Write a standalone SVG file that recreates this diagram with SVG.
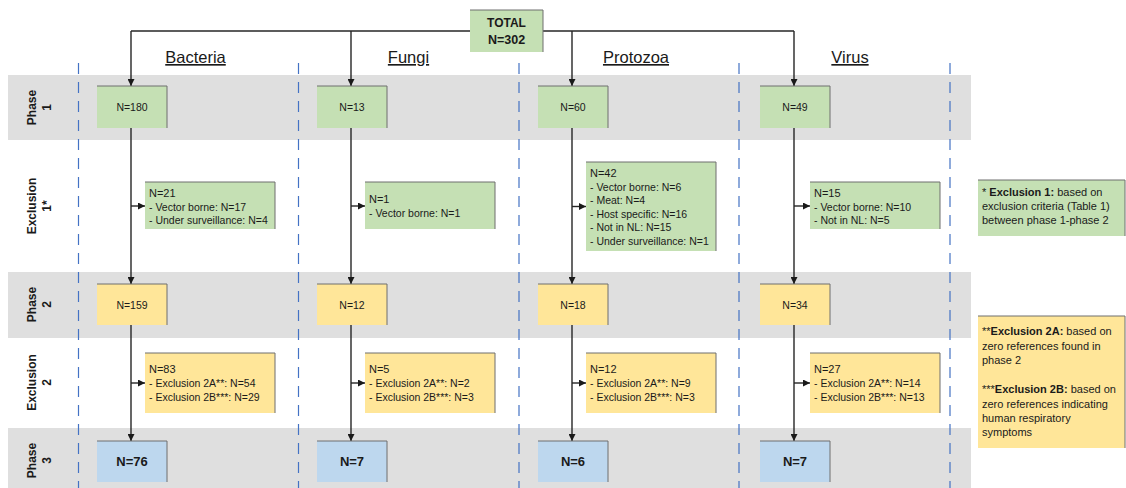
<svg xmlns="http://www.w3.org/2000/svg" width="1126" height="488" viewBox="0 0 1126 488">
<defs>
<marker id="ah" viewBox="0 0 7 7" refX="7" refY="3.5" markerWidth="7" markerHeight="7" markerUnits="userSpaceOnUse" orient="auto"><path d="M0,0 L7,3.5 L0,7 z" fill="#1a1a1a"/></marker>
<style>
text{font-family:"Liberation Sans",Arial,sans-serif;fill:#1a1a1a}
.band{fill:#dfdfdf}
.dash{stroke:#4472c4;stroke-width:1.2;stroke-dasharray:11 8;fill:none}
.con{stroke:#262626;stroke-width:1.4;fill:none}
.g{fill:#c5e0b4}
.y{fill:#ffe699}
.b{fill:#bdd7ee}
.edge{stroke:#6f6f6f;stroke-width:1;fill:none}
.hdr{font-size:16.5px;text-decoration:underline}
.row{font-size:12px;font-weight:bold;text-anchor:middle}
.pn{font-size:10.5px;text-anchor:middle}
.p3{font-size:13px;font-weight:bold;text-anchor:middle}
.ex{font-size:10.5px}
.exh{font-size:11px}
.leg{font-size:11px}
</style>
</defs>
<g id="bands">
<rect class="band" x="8" y="75" width="963" height="65"/>
<rect class="band" x="8" y="272" width="963" height="66"/>
<rect class="band" x="8" y="428" width="963" height="60"/>
</g>
<g id="dividers">
<line class="dash" x1="78.5" y1="63" x2="78.5" y2="488"/>
<line class="dash" x1="298.5" y1="63" x2="298.5" y2="488"/>
<line class="dash" x1="519" y1="63" x2="519" y2="488"/>
<line class="dash" x1="739" y1="63" x2="739" y2="488"/>
<line class="dash" x1="950" y1="63" x2="950" y2="488"/>
</g>
<g id="row-labels">
<g transform="translate(0,107.5) rotate(-90)"><text class="row" x="0" y="36">Phase</text><text class="row" x="0" y="50.5">1</text></g>
<g transform="translate(0,206) rotate(-90)"><text class="row" x="0" y="36">Exclusion</text><text class="row" x="0" y="50.5">1*</text></g>
<g transform="translate(0,304.5) rotate(-90)"><text class="row" x="0" y="36">Phase</text><text class="row" x="0" y="50.5">2</text></g>
<g transform="translate(0,382.5) rotate(-90)"><text class="row" x="0" y="36">Exclusion</text><text class="row" x="0" y="50.5">2</text></g>
<g transform="translate(0,460.5) rotate(-90)"><text class="row" x="0" y="36">Phase</text><text class="row" x="0" y="50.5">3</text></g>
</g>
<g id="headers">
<text class="hdr" x="195.5" y="63" text-anchor="middle">Bacteria</text>
<text class="hdr" x="408.5" y="63" text-anchor="middle">Fungi</text>
<text class="hdr" x="636" y="63" text-anchor="middle">Protozoa</text>
<text class="hdr" x="850" y="63" text-anchor="middle">Virus</text>
</g>
<g id="connectors">
<path class="con" d="M131,31 H794"/>
<path class="con" d="M131,31 V86" marker-end="url(#ah)"/>
<path class="con" d="M351,31 V86" marker-end="url(#ah)"/>
<path class="con" d="M572,31 V86" marker-end="url(#ah)"/>
<path class="con" d="M794,31 V86" marker-end="url(#ah)"/>
<path class="con" d="M131,128 V284" marker-end="url(#ah)"/>
<path class="con" d="M351,128 V284" marker-end="url(#ah)"/>
<path class="con" d="M572,128 V284" marker-end="url(#ah)"/>
<path class="con" d="M794,128 V284" marker-end="url(#ah)"/>
<path class="con" d="M131,325 V441" marker-end="url(#ah)"/>
<path class="con" d="M351,325 V441" marker-end="url(#ah)"/>
<path class="con" d="M572,325 V441" marker-end="url(#ah)"/>
<path class="con" d="M794,325 V441" marker-end="url(#ah)"/>
<path class="con" d="M131,206 H145" marker-end="url(#ah)"/>
<path class="con" d="M351,206 H365" marker-end="url(#ah)"/>
<path class="con" d="M572,206.5 H586" marker-end="url(#ah)"/>
<path class="con" d="M794,206 H810" marker-end="url(#ah)"/>
<path class="con" d="M131,383 H145" marker-end="url(#ah)"/>
<path class="con" d="M351,383 H365" marker-end="url(#ah)"/>
<path class="con" d="M572,383 H586" marker-end="url(#ah)"/>
<path class="con" d="M794,383 H810" marker-end="url(#ah)"/>
</g>
<g id="total">
<rect class="g" x="470" y="10" width="73" height="42"/><path class="edge" d="M470,10 H543 V52"/>
<text x="506.5" y="27" font-size="12" font-weight="bold" text-anchor="middle">TOTAL</text>
<text x="506.5" y="44" font-size="12.5" font-weight="bold" text-anchor="middle">N=302</text>
</g>
<!-- Bacteria -->
<g id="bacteria-p1"><rect class="g" x="97" y="86" width="70" height="42"/><path class="edge" d="M97,86 H167 V128"/><text class="pn" x="132" y="111">N=180</text></g>
<g id="bacteria-e1"><rect class="g" x="145" y="182" width="130" height="47"/><path class="edge" d="M145,182 H275 V229"/>
<text class="exh" x="149" y="197">N=21</text><text class="ex" x="149" y="210.5">- Vector borne: N=17</text><text class="ex" x="149" y="224">- Under surveillance: N=4</text></g>
<g id="bacteria-p2"><rect class="y" x="97" y="284" width="70" height="41"/><path class="edge" d="M97,284 H167 V325"/><text class="pn" x="132" y="308.5">N=159</text></g>
<g id="bacteria-e2"><rect class="y" x="145" y="353" width="130" height="60"/><path class="edge" d="M145,353 H275 V413"/>
<text class="exh" x="149" y="373">N=83</text><text class="ex" x="149" y="387">- Exclusion 2A**: N=54</text><text class="ex" x="149" y="401">- Exclusion 2B***: N=29</text></g>
<g id="bacteria-p3"><rect class="b" x="97" y="441" width="70" height="41"/><path class="edge" d="M97,441 H167 V482"/><text class="p3" x="132" y="466">N=76</text></g>
<!-- Fungi -->
<g id="fungi-p1"><rect class="g" x="317" y="86" width="70" height="42"/><path class="edge" d="M317,86 H387 V128"/><text class="pn" x="352" y="111">N=13</text></g>
<g id="fungi-e1"><rect class="g" x="365" y="182" width="130" height="47"/><path class="edge" d="M365,182 H495 V229"/>
<text class="exh" x="369" y="203">N=1</text><text class="ex" x="369" y="217">- Vector borne: N=1</text></g>
<g id="fungi-p2"><rect class="y" x="317" y="284" width="70" height="41"/><path class="edge" d="M317,284 H387 V325"/><text class="pn" x="352" y="308.5">N=12</text></g>
<g id="fungi-e2"><rect class="y" x="365" y="353" width="130" height="60"/><path class="edge" d="M365,353 H495 V413"/>
<text class="exh" x="369" y="373">N=5</text><text class="ex" x="369" y="387">- Exclusion 2A**: N=2</text><text class="ex" x="369" y="401">- Exclusion 2B***: N=3</text></g>
<g id="fungi-p3"><rect class="b" x="317" y="441" width="70" height="41"/><path class="edge" d="M317,441 H387 V482"/><text class="p3" x="352" y="466">N=7</text></g>
<!-- Protozoa -->
<g id="protozoa-p1"><rect class="g" x="538" y="86" width="70" height="42"/><path class="edge" d="M538,86 H608 V128"/><text class="pn" x="573" y="111">N=60</text></g>
<g id="protozoa-e1"><rect class="g" x="586" y="162" width="130" height="89"/><path class="edge" d="M586,162 H716 V251"/>
<text class="exh" x="590" y="177">N=42</text><text class="ex" x="590" y="190.5">- Vector borne: N=6</text><text class="ex" x="590" y="204">- Meat: N=4</text><text class="ex" x="590" y="217.5">- Host specific: N=16</text><text class="ex" x="590" y="231">- Not in NL: N=15</text><text class="ex" x="590" y="244.5">- Under surveillance: N=1</text></g>
<g id="protozoa-p2"><rect class="y" x="538" y="284" width="70" height="41"/><path class="edge" d="M538,284 H608 V325"/><text class="pn" x="573" y="308.5">N=18</text></g>
<g id="protozoa-e2"><rect class="y" x="586" y="353" width="130" height="60"/><path class="edge" d="M586,353 H716 V413"/>
<text class="exh" x="590" y="373">N=12</text><text class="ex" x="590" y="387">- Exclusion 2A**: N=9</text><text class="ex" x="590" y="401">- Exclusion 2B***: N=3</text></g>
<g id="protozoa-p3"><rect class="b" x="538" y="441" width="70" height="41"/><path class="edge" d="M538,441 H608 V482"/><text class="p3" x="573" y="466">N=6</text></g>
<!-- Virus -->
<g id="virus-p1"><rect class="g" x="760" y="86" width="70" height="42"/><path class="edge" d="M760,86 H830 V128"/><text class="pn" x="795" y="111">N=49</text></g>
<g id="virus-e1"><rect class="g" x="810" y="182" width="130" height="47"/><path class="edge" d="M810,182 H940 V229"/>
<text class="exh" x="814" y="197">N=15</text><text class="ex" x="814" y="210.5">- Vector borne: N=10</text><text class="ex" x="814" y="224">- Not in NL: N=5</text></g>
<g id="virus-p2"><rect class="y" x="760" y="284" width="70" height="41"/><path class="edge" d="M760,284 H830 V325"/><text class="pn" x="795" y="308.5">N=34</text></g>
<g id="virus-e2"><rect class="y" x="810" y="353" width="130" height="60"/><path class="edge" d="M810,353 H940 V413"/>
<text class="exh" x="814" y="373">N=27</text><text class="ex" x="814" y="387">- Exclusion 2A**: N=14</text><text class="ex" x="814" y="401">- Exclusion 2B***: N=13</text></g>
<g id="virus-p3"><rect class="b" x="760" y="441" width="70" height="41"/><path class="edge" d="M760,441 H830 V482"/><text class="p3" x="795" y="466">N=7</text></g>
<!-- Legends -->
<g id="legend-1"><rect class="g" x="978" y="180" width="147" height="56"/><path class="edge" d="M978,180 H1125 V236"/>
<text class="leg" x="982" y="196">* <tspan font-weight="bold">Exclusion 1:</tspan> based on</text>
<text class="leg" x="982" y="210">exclusion criteria (Table 1)</text>
<text class="leg" x="982" y="224">between phase 1-phase 2</text></g>
<g id="legend-2"><rect class="y" x="978" y="316" width="147" height="132"/><path class="edge" d="M978,316 H1125 V448"/>
<text class="leg" x="982" y="335">**<tspan font-weight="bold">Exclusion 2A:</tspan> based on</text>
<text class="leg" x="982" y="349.5">zero references found in</text>
<text class="leg" x="982" y="364">phase 2</text>
<text class="leg" x="982" y="393">***<tspan font-weight="bold">Exclusion 2B:</tspan> based on</text>
<text class="leg" x="982" y="407.5">zero references indicating</text>
<text class="leg" x="982" y="422">human respiratory</text>
<text class="leg" x="982" y="436">symptoms</text></g>
</svg>
